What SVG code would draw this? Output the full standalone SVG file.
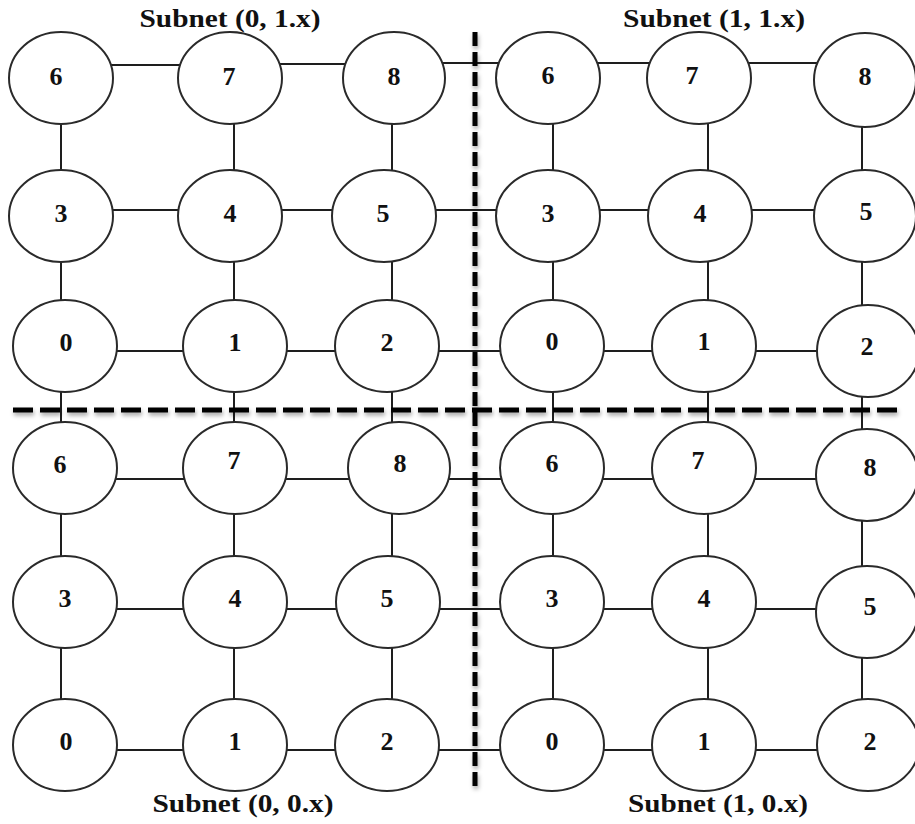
<svg xmlns="http://www.w3.org/2000/svg" width="915" height="824" viewBox="0 0 915 824">
<style>
.n ellipse{fill:#fff;stroke:#2a2a2a;stroke-width:2}
.n text{font-family:"Liberation Serif","DejaVu Serif",serif;font-weight:bold;font-size:26px;text-anchor:middle;fill:#111}
#connectors line{stroke:#1e1e1e;stroke-width:2}
.lbl{font-family:"Liberation Serif","DejaVu Serif",serif;font-weight:bold;font-size:25px;text-anchor:middle;fill:#111}
.div{stroke:#000;stroke-width:5;fill:none}
</style>
<defs>
<filter id="sh" x="-5%" y="-5%" width="110%" height="110%">
<feDropShadow dx="1" dy="3" stdDeviation="2" flood-color="#000" flood-opacity="0.35"/>
</filter>
</defs>
<rect width="915" height="824" fill="#fff"/>
<g id="connectors">
<line x1="61" y1="65" x2="230" y2="65"/><line x1="230" y1="64" x2="394" y2="64"/><line x1="394" y1="63" x2="548" y2="63"/><line x1="548" y1="63" x2="699" y2="63"/><line x1="699" y1="63" x2="865" y2="63"/>
<line x1="61" y1="210" x2="230" y2="210"/><line x1="230" y1="210" x2="384" y2="210"/><line x1="384" y1="210" x2="548" y2="210"/><line x1="548" y1="210" x2="700" y2="210"/><line x1="700" y1="210" x2="865" y2="210"/>
<line x1="65" y1="351" x2="235" y2="351"/><line x1="235" y1="351" x2="387" y2="351"/><line x1="387" y1="351" x2="552" y2="351"/><line x1="552" y1="351" x2="704" y2="351"/><line x1="704" y1="351" x2="868" y2="351"/>
<line x1="65" y1="479" x2="235" y2="479"/><line x1="235" y1="479" x2="399" y2="479"/><line x1="399" y1="479" x2="552" y2="479"/><line x1="552" y1="479" x2="704" y2="479"/><line x1="704" y1="479" x2="867" y2="479"/>
<line x1="65" y1="609" x2="235" y2="609"/><line x1="235" y1="609" x2="388" y2="609"/><line x1="388" y1="609" x2="552" y2="609"/><line x1="552" y1="609" x2="704" y2="609"/><line x1="704" y1="609" x2="867" y2="609"/>
<line x1="65" y1="750" x2="235" y2="750"/><line x1="235" y1="750" x2="387" y2="750"/><line x1="387" y1="750" x2="552" y2="750"/><line x1="552" y1="750" x2="704" y2="750"/><line x1="704" y1="750" x2="868" y2="750"/>
<line x1="61" y1="78" x2="61" y2="216"/><line x1="61" y1="216" x2="61" y2="346"/><line x1="61" y1="346" x2="61" y2="468"/><line x1="61" y1="468" x2="61" y2="602"/><line x1="61" y1="602" x2="61" y2="745"/>
<line x1="234" y1="78" x2="234" y2="216"/><line x1="234" y1="216" x2="234" y2="346"/><line x1="234" y1="346" x2="234" y2="468"/><line x1="234" y1="468" x2="234" y2="602"/><line x1="234" y1="602" x2="234" y2="745"/>
<line x1="392" y1="78" x2="392" y2="216"/><line x1="392" y1="216" x2="392" y2="346"/><line x1="392" y1="346" x2="392" y2="468"/><line x1="392" y1="468" x2="392" y2="602"/><line x1="392" y1="602" x2="392" y2="745"/>
<line x1="553" y1="78" x2="553" y2="216"/><line x1="553" y1="216" x2="553" y2="346"/><line x1="553" y1="346" x2="553" y2="468"/><line x1="553" y1="468" x2="553" y2="602"/><line x1="553" y1="602" x2="553" y2="745"/>
<line x1="708" y1="78" x2="708" y2="216"/><line x1="708" y1="216" x2="708" y2="346"/><line x1="708" y1="346" x2="708" y2="468"/><line x1="708" y1="468" x2="708" y2="602"/><line x1="708" y1="602" x2="708" y2="745"/>
<line x1="862" y1="80" x2="862" y2="216"/><line x1="862" y1="216" x2="862" y2="351"/><line x1="862" y1="351" x2="862" y2="475"/><line x1="862" y1="475" x2="862" y2="612"/><line x1="862" y1="612" x2="862" y2="745"/>
</g>
<g id="nodes" class="n">
<g id="s01-6"><ellipse cx="61" cy="78" rx="52" ry="46"/><text x="56" y="85">6</text></g>
<g id="s01-7"><ellipse cx="230" cy="78" rx="52" ry="46"/><text x="229" y="85">7</text></g>
<g id="s01-8"><ellipse cx="394" cy="78" rx="51" ry="46"/><text x="394" y="85">8</text></g>
<g id="s01-3"><ellipse cx="61" cy="216" rx="52" ry="46"/><text x="61" y="222">3</text></g>
<g id="s01-4"><ellipse cx="230" cy="216" rx="52" ry="46"/><text x="230" y="222">4</text></g>
<g id="s01-5"><ellipse cx="384" cy="216" rx="52" ry="46"/><text x="383" y="222">5</text></g>
<g id="s01-0"><ellipse cx="65" cy="346" rx="52" ry="46"/><text x="66" y="351">0</text></g>
<g id="s01-1"><ellipse cx="235" cy="346" rx="52" ry="46"/><text x="235" y="351">1</text></g>
<g id="s01-2"><ellipse cx="387" cy="346" rx="52" ry="46"/><text x="387" y="351">2</text></g>
<g id="s11-6"><ellipse cx="548" cy="78" rx="52" ry="46"/><text x="548" y="84">6</text></g>
<g id="s11-7"><ellipse cx="699" cy="78" rx="52" ry="46"/><text x="692" y="84">7</text></g>
<g id="s11-8"><ellipse cx="865" cy="80" rx="51" ry="47"/><text x="865" y="85">8</text></g>
<g id="s11-3"><ellipse cx="548" cy="216" rx="52" ry="46"/><text x="548" y="222">3</text></g>
<g id="s11-4"><ellipse cx="700" cy="216" rx="52" ry="46"/><text x="700" y="222">4</text></g>
<g id="s11-5"><ellipse cx="865" cy="216" rx="51" ry="46"/><text x="866" y="220">5</text></g>
<g id="s11-0"><ellipse cx="552" cy="346" rx="52" ry="46"/><text x="552" y="350">0</text></g>
<g id="s11-1"><ellipse cx="704" cy="346" rx="52" ry="46"/><text x="704" y="350">1</text></g>
<g id="s11-2"><ellipse cx="868" cy="351" rx="51" ry="46"/><text x="867" y="355">2</text></g>
<g id="s00-6"><ellipse cx="65" cy="468" rx="52" ry="46"/><text x="60" y="473">6</text></g>
<g id="s00-7"><ellipse cx="235" cy="468" rx="52" ry="46"/><text x="234" y="469">7</text></g>
<g id="s00-8"><ellipse cx="399" cy="468" rx="51" ry="46"/><text x="400" y="472">8</text></g>
<g id="s00-3"><ellipse cx="65" cy="602" rx="52" ry="46"/><text x="65" y="607">3</text></g>
<g id="s00-4"><ellipse cx="235" cy="602" rx="52" ry="46"/><text x="235" y="607">4</text></g>
<g id="s00-5"><ellipse cx="388" cy="602" rx="52" ry="46"/><text x="387" y="607">5</text></g>
<g id="s00-0"><ellipse cx="65" cy="745" rx="52" ry="46"/><text x="66" y="750">0</text></g>
<g id="s00-1"><ellipse cx="235" cy="745" rx="52" ry="46"/><text x="235" y="750">1</text></g>
<g id="s00-2"><ellipse cx="387" cy="745" rx="52" ry="46"/><text x="387" y="750">2</text></g>
<g id="s10-6"><ellipse cx="552" cy="468" rx="52" ry="46"/><text x="552" y="472">6</text></g>
<g id="s10-7"><ellipse cx="704" cy="468" rx="52" ry="46"/><text x="698" y="469">7</text></g>
<g id="s10-8"><ellipse cx="867" cy="475" rx="51" ry="46"/><text x="870" y="476">8</text></g>
<g id="s10-3"><ellipse cx="552" cy="602" rx="52" ry="46"/><text x="552" y="607">3</text></g>
<g id="s10-4"><ellipse cx="704" cy="602" rx="52" ry="46"/><text x="704" y="607">4</text></g>
<g id="s10-5"><ellipse cx="867" cy="612" rx="51" ry="46"/><text x="870" y="615">5</text></g>
<g id="s10-0"><ellipse cx="552" cy="745" rx="52" ry="46"/><text x="552" y="750">0</text></g>
<g id="s10-1"><ellipse cx="704" cy="745" rx="52" ry="46"/><text x="704" y="750">1</text></g>
<g id="s10-2"><ellipse cx="868" cy="745" rx="51" ry="46"/><text x="870" y="750">2</text></g>
</g>
<g id="dividers" filter="url(#sh)">
<line class="div" x1="13" y1="410" x2="898" y2="410" stroke-dasharray="20 7"/>
<line class="div" x1="475" y1="32" x2="475" y2="792" stroke-dasharray="14 6"/>
</g>
<g id="labels">
<text class="lbl" x="230" y="27" textLength="181" lengthAdjust="spacingAndGlyphs">Subnet (0, 1.x)</text>
<text class="lbl" x="714" y="27" textLength="182" lengthAdjust="spacingAndGlyphs">Subnet (1, 1.x)</text>
<text class="lbl" x="243" y="812" textLength="181" lengthAdjust="spacingAndGlyphs">Subnet (0, 0.x)</text>
<text class="lbl" x="718" y="812" textLength="180" lengthAdjust="spacingAndGlyphs">Subnet (1, 0.x)</text>
</g>
</svg>
